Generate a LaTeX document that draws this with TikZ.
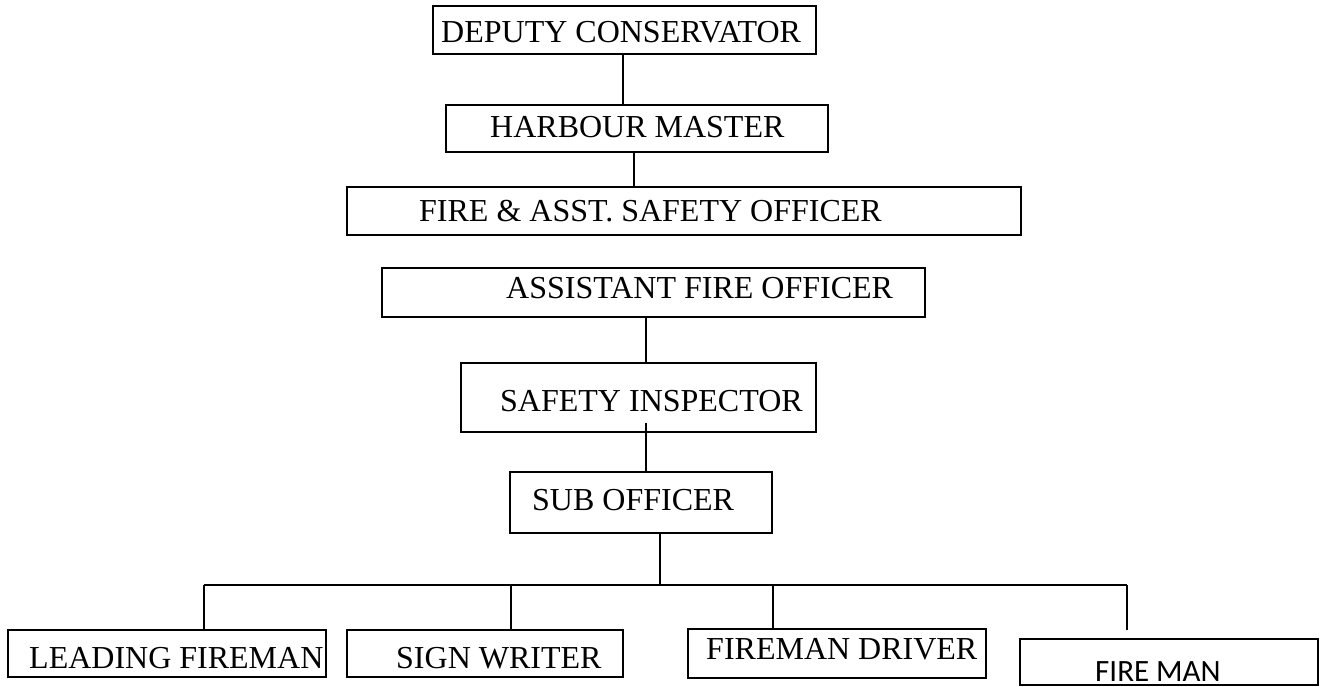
\documentclass[tikz,border=0pt]{standalone}
\usepackage{fontspec}
\setmainfont{Liberation Serif}
\newfontfamily\calibrifont{Carlito}
\usetikzlibrary{fit,calc}

\tikzset{
  box/.style={draw=black, line width=2pt, inner sep=0pt, fill=none},
  lbl/.style={inner sep=0pt, anchor=base west, font=\fontsize{32}{38}\selectfont},
  sanslbl/.style={inner sep=0pt, anchor=base west, text depth=0pt, font=\calibrifont\fontsize{31}{37}\selectfont},
  link/.style={draw=black, line width=2pt}
}

\begin{document}
\begin{tikzpicture}[x=1pt, y=-1pt]
\useasboundingbox (0,0) rectangle (1322,687);

% boxes of the hierarchy
\node[box, fit={(433,6) (816,54)}]      (dc)  {};
\node[box, fit={(446,105) (828,152)}]   (hm)  {};
\node[box, fit={(347,187) (1021,235)}]  (fso) {};
\node[box, fit={(382,268) (925,317)}]   (afo) {};
\node[box, fit={(461,363) (816,432)}]   (si)  {};
\node[box, fit={(510,472) (772,533)}]   (so)  {};
\node[box, fit={(8,630) (326,677)}]     (lf)  {};
\node[box, fit={(347,630) (623,677)}]   (sw)  {};
\node[box, fit={(688,629) (986,678)}]   (fd)  {};
\node[box, fit={(1020,639) (1318,685)}] (fm)  {};

% titles
\node[lbl] (dct)  at (441,43)  {DEPUTY CONSERVATOR};
\node[lbl] (hmt)  at (490,138) {HARBOUR MASTER};
\node[lbl] (fsot) at (419,222) {FIRE \& ASST. SAFETY OFFICER};
\node[lbl] (afot) at (506,298) {ASSISTANT FIRE OFFICER};
\node[lbl] (sit)  at (500,411) {SAFETY INSPECTOR};
\node[lbl] (sot)  at (532,510) {SUB OFFICER};
\node[lbl] (lft)  at (29,668)  {LEADING FIREMAN};
\node[lbl] (swt)  at (396,668) {SIGN WRITER};
\node[lbl] (fdt)  at (706,659) {FIREMAN DRIVER};
\node[sanslbl] (fmt) at (1095,681) {FIRE MAN};

% vertical links of the upper chain
\draw[link] ($(dc.south)+(-1.5,0)$) coordinate (t1) -- (t1 |- hm.north);
\draw[link] ($(hm.south)+(-3,0)$) coordinate (t2) -- (t2 |- fso.north);
\draw[link] ($(afo.south)+(-7.5,0)$) coordinate (t3) -- (t3 |- si.north);
\draw[link] ($(si.south)+(7.5,-10)$) coordinate (t4) -- (t4 |- so.north);

% branch to the four posts
\coordinate (bus) at (660,585);
\coordinate (b1) at (204,585);
\coordinate (b2) at (511,585);
\coordinate (b3) at (773,585);
\coordinate (b4) at (1127,585);
\coordinate (f4) at (1127,630);
\draw[link] ($(bus |- so.south)+(0,-2)$) -- (bus);
\draw[link] (b1) -- (b4);
\draw[link] (b1) -- (b1 |- lf.north);
\draw[link] (b2) -- (b2 |- sw.north);
\draw[link] (b3) -- (b3 |- fd.north);
\draw[link] (b4) -- (f4);
\end{tikzpicture}
\end{document}
